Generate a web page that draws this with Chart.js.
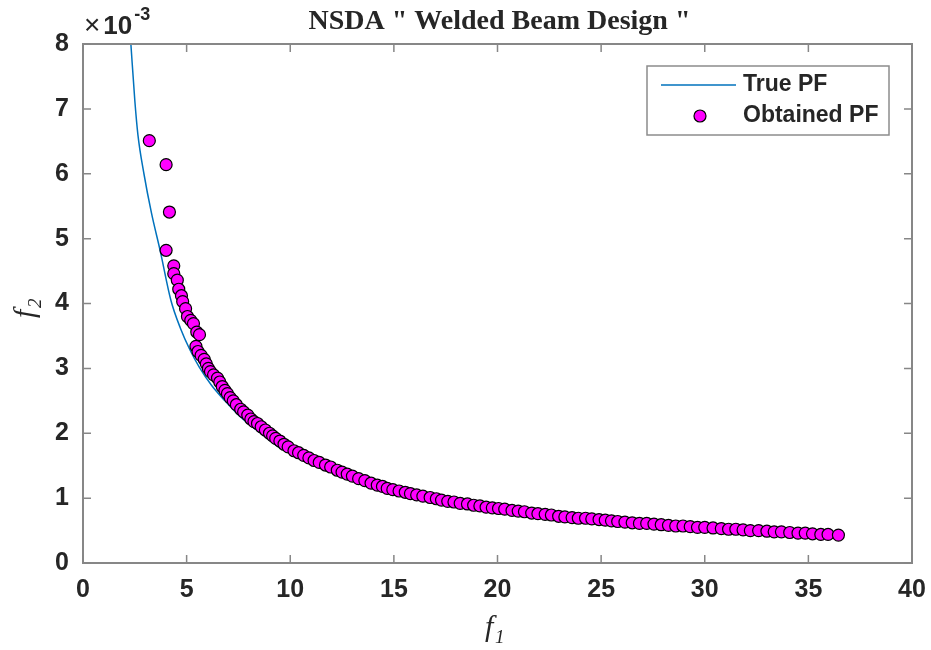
<!DOCTYPE html>
<html>
<head>
<meta charset="utf-8">
<title>NSDA Welded Beam Design</title>
<script src="https://cdn.jsdelivr.net/npm/chart.js"></script>
<style>
  body { margin: 0; background: #fff; }
  canvas { display: block; }
</style>
</head>
<body>
<canvas id="pf" width="931" height="650"></canvas>
<script>
// f2 values are kept in units of 1e-3 (the axis carries the x10^-3 multiplier)
const trueF1 = [2.31, 2.5, 2.65, 2.94, 3.3, 3.72, 4.24, 4.7, 5.17, 5.61, 6.2, 6.82, 7.6, 8.58, 9.54, 10.5, 12, 13.5, 15, 17.5, 20, 22.5, 25, 27.5, 30, 33, 36.5];
const trueF2 = [8.0, 7.13, 6.6, 6.0, 5.4, 4.82, 4.05, 3.62, 3.28, 3.02, 2.74, 2.51, 2.25, 2.0, 1.77, 1.64, 1.44, 1.27, 1.12, 0.96, 0.84, 0.74, 0.66, 0.59, 0.54, 0.49, 0.43];

const obtainedF1 = [
  3.20, 4.01, 4.17, 4.01, 4.38, 4.38, 4.55, 4.62, 4.75, 4.81,
  4.95, 5.04, 5.20, 5.33, 5.49, 5.62, 5.45, 5.55, 5.70, 5.85,
  5.95, 6.05, 6.15, 6.30, 6.49, 6.60, 6.72, 6.85, 6.97, 7.10,
  7.25, 7.40, 7.61, 7.75, 7.95, 8.10, 8.25, 8.42, 8.60, 8.80,
  9.00, 9.15, 9.30, 9.50, 9.70, 9.90, 10.18, 10.40, 10.65, 10.90,
  11.15, 11.40, 11.70, 11.95, 12.27, 12.50, 12.75, 13.00, 13.30, 13.60,
  13.90, 14.20, 14.45, 14.68, 14.95, 15.25, 15.55, 15.80, 16.10, 16.40,
  16.75, 17.05, 17.30, 17.60, 17.90, 18.20, 18.55, 18.85, 19.15, 19.45,
  19.75, 20.05, 20.35, 20.70, 21.00, 21.30, 21.65, 21.95, 22.30, 22.60,
  22.95, 23.25, 23.60, 23.90, 24.25, 24.55, 24.90, 25.20, 25.50, 25.80,
  26.15, 26.50, 26.85, 27.20, 27.55, 27.90, 28.25, 28.60, 28.95, 29.30,
  29.65, 30.00, 30.40, 30.80, 31.15, 31.50, 31.85, 32.20, 32.60, 33.00,
  33.35, 33.70, 34.10, 34.50, 34.85, 35.20, 35.60, 35.95, 36.45
];
const obtainedF2 = [
  6.51, 6.14, 5.41, 4.82, 4.58, 4.46, 4.36, 4.22, 4.12, 4.03,
  3.92, 3.80, 3.74, 3.69, 3.56, 3.52, 3.34, 3.26, 3.20, 3.14,
  3.07, 3.00, 2.95, 2.90, 2.85, 2.79, 2.72, 2.66, 2.61, 2.55,
  2.50, 2.44, 2.37, 2.33, 2.28, 2.22, 2.18, 2.15, 2.10, 2.05,
  2.00, 1.96, 1.92, 1.88, 1.83, 1.79, 1.73, 1.70, 1.66, 1.62,
  1.58, 1.55, 1.51, 1.48, 1.43, 1.40, 1.37, 1.34, 1.30, 1.27,
  1.23, 1.20, 1.18, 1.15, 1.13, 1.11, 1.09, 1.07, 1.05, 1.03,
  1.01, 0.99, 0.97, 0.95, 0.94, 0.92, 0.91, 0.89, 0.88, 0.86,
  0.85, 0.84, 0.83, 0.81, 0.80, 0.79, 0.77, 0.76, 0.75, 0.74,
  0.72, 0.71, 0.70, 0.69, 0.69, 0.68, 0.67, 0.66, 0.65, 0.64,
  0.63, 0.62, 0.61, 0.61, 0.60, 0.59, 0.58, 0.57, 0.57, 0.56,
  0.55, 0.55, 0.54, 0.53, 0.52, 0.52, 0.51, 0.50, 0.50, 0.49,
  0.48, 0.48, 0.47, 0.46, 0.46, 0.45, 0.44, 0.44, 0.43
];

const xTicks = [0, 5, 10, 15, 20, 25, 30, 35, 40];
const yTicks = [0, 1, 2, 3, 4, 5, 6, 7, 8];

const titleText = 'NSDA " Welded Beam Design "';
const legendLabels = ['True PF', 'Obtained PF'];

const lineColor = '#0072BD';
const dotColor = '#FF00FF';
const axisColor = '#878787';
const textColor = '#262626';
const tickFont = { family: '"Liberation Sans", Arial, sans-serif', size: 25, weight: 'bold' };

const toPoints = (xs, ys) => xs.map((v, i) => ({ x: v, y: ys[i] }));

// box with inward ticks, title, axis labels, multiplier and legend
const decorations = {
  id: 'decorations',
  afterDraw(chart) {
    const { ctx, chartArea: a, scales: { x, y } } = chart;
    ctx.save();

    ctx.strokeStyle = axisColor;
    ctx.lineWidth = 2;
    ctx.strokeRect(a.left, a.top, a.right - a.left, a.bottom - a.top);
    ctx.lineWidth = 1.5;
    ctx.beginPath();
    xTicks.forEach(v => {
      const px = x.getPixelForValue(v);
      ctx.moveTo(px, a.bottom); ctx.lineTo(px, a.bottom - 8);
      ctx.moveTo(px, a.top); ctx.lineTo(px, a.top + 8);
    });
    yTicks.forEach(v => {
      const py = y.getPixelForValue(v);
      ctx.moveTo(a.left, py); ctx.lineTo(a.left + 8, py);
      ctx.moveTo(a.right, py); ctx.lineTo(a.right - 8, py);
    });
    ctx.stroke();

    ctx.fillStyle = textColor;
    ctx.textBaseline = 'alphabetic';

    // title
    ctx.font = 'bold 28px "Liberation Serif", "Times New Roman", serif';
    ctx.textAlign = 'center';
    ctx.fillText(titleText, (a.left + a.right) / 2 + 2, 29);

    // x10^-3 multiplier
    ctx.textAlign = 'left';
    ctx.font = '28px "Liberation Sans", Arial, sans-serif';
    ctx.fillText('\u00d7', a.left + 1, 34);
    const wx = ctx.measureText('\u00d7').width;
    ctx.font = 'bold 26px "Liberation Sans", Arial, sans-serif';
    ctx.fillText('10', a.left + 4 + wx, 34);
    const w10 = ctx.measureText('10').width;
    ctx.font = 'bold 18px "Liberation Sans", Arial, sans-serif';
    ctx.fillText('-3', a.left + 6 + wx + w10, 20);

    // f1
    ctx.font = 'italic 30px "Liberation Serif", "Times New Roman", serif';
    ctx.fillText('f', 485, 636);
    ctx.font = 'italic 19px "Liberation Serif", "Times New Roman", serif';
    ctx.fillText('1', 495, 643);

    // f2 (rotated)
    ctx.save();
    ctx.translate(34, 318);
    ctx.rotate(-Math.PI / 2);
    ctx.font = 'italic 30px "Liberation Serif", "Times New Roman", serif';
    ctx.fillText('f', 0, 0);
    ctx.font = 'italic 19px "Liberation Serif", "Times New Roman", serif';
    ctx.fillText('2', 10, 7);
    ctx.restore();

    // legend
    const lx = a.right - 265, ly = a.top + 22, lw = 242, lh = 69;
    ctx.fillStyle = '#fff';
    ctx.fillRect(lx, ly, lw, lh);
    ctx.strokeStyle = '#8c8c8c';
    ctx.lineWidth = 1.5;
    ctx.strokeRect(lx, ly, lw, lh);
    ctx.strokeStyle = lineColor;
    ctx.lineWidth = 1.5;
    ctx.beginPath();
    ctx.moveTo(lx + 14, ly + 19); ctx.lineTo(lx + 89, ly + 19);
    ctx.stroke();
    ctx.beginPath();
    ctx.arc(lx + 53, ly + 50, 6, 0, Math.PI * 2);
    ctx.fillStyle = dotColor;
    ctx.fill();
    ctx.strokeStyle = '#000';
    ctx.lineWidth = 1.2;
    ctx.stroke();
    ctx.fillStyle = textColor;
    ctx.font = 'bold 23px "Liberation Sans", Arial, sans-serif';
    ctx.textBaseline = 'middle';
    ctx.fillText(legendLabels[0], lx + 96, ly + 19);
    ctx.fillText(legendLabels[1], lx + 96, ly + 50);

    ctx.restore();
  }
};

new Chart(document.getElementById('pf'), {
  type: 'scatter',
  data: {
    datasets: [
      {
        label: legendLabels[0],
        data: toPoints(trueF1, trueF2),
        showLine: true,
        borderColor: lineColor,
        borderWidth: 1.5,
        pointRadius: 0,
        cubicInterpolationMode: 'monotone',
        order: 1,
      },
      {
        label: legendLabels[1],
        data: toPoints(obtainedF1, obtainedF2),
        backgroundColor: dotColor,
        borderColor: '#000',
        borderWidth: 1.2,
        pointRadius: 6,
        order: 0,
      },
    ],
  },
  options: {
    responsive: false,
    animation: false,
    layout: { padding: { top: 44, right: 19, left: 0, bottom: 0 } },
    plugins: {
      legend: { display: false },
      tooltip: { enabled: false },
    },
    scales: {
      x: {
        type: 'linear',
        min: 0,
        max: 40,
        afterBuildTicks: s => { s.ticks = xTicks.map(v => ({ value: v })); },
        afterFit: s => { s.height = 87; s.paddingLeft = 0; s.paddingRight = 0; },
        grid: { display: false, drawTicks: false },
        border: { display: false },
        ticks: { font: tickFont, color: textColor, padding: 12, maxRotation: 0 },
      },
      y: {
        type: 'linear',
        min: 0,
        max: 8,
        afterBuildTicks: s => { s.ticks = yTicks.map(v => ({ value: v })); },
        afterFit: s => { s.width = 83; s.paddingTop = 0; s.paddingBottom = 0; },
        grid: { display: false, drawTicks: false },
        border: { display: false },
        ticks: { font: tickFont, color: textColor, padding: 14 },
      },
    },
  },
  plugins: [decorations],
});
</script>
</body>
</html>
